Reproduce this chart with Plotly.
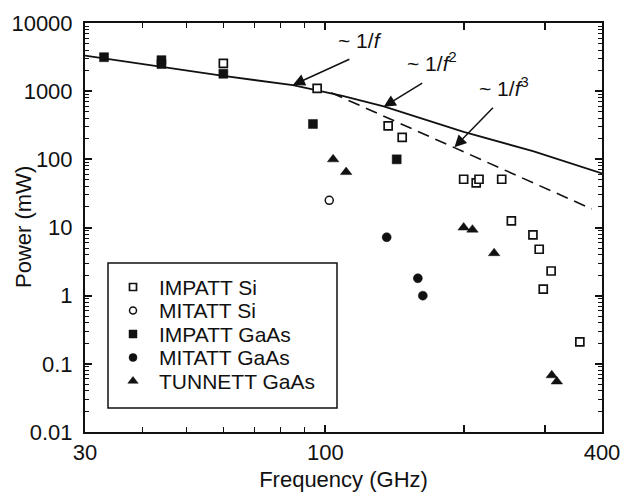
import math
import plotly.graph_objects as go

# Measured output power of transit-time diodes
impatt_si_f = [60, 96, 137, 147, 200, 213, 216, 242, 254, 283, 292, 310, 298, 358]
impatt_si_p = [2550, 1100, 310, 210, 51, 45, 51, 51, 12.5, 7.8, 4.8, 2.3, 1.25, 0.21]

mitatt_si_f = [102]
mitatt_si_p = [25]

impatt_gaas_f = [33, 44, 44, 60, 94, 143]
impatt_gaas_p = [3150, 2850, 2500, 1800, 330, 100]

mitatt_gaas_f = [136, 159, 163]
mitatt_gaas_p = [7.2, 1.8, 1.0]

tunnett_gaas_f = [104, 111, 200, 209, 233, 311, 319]
tunnett_gaas_p = [100, 65, 10, 9.3, 4.2, 0.068, 0.055]

# Trend lines (~1/f, then ~1/f^2; and ~1/f^3)
trend_solid_f = [30, 60, 85, 109, 134, 200, 283, 400]
trend_solid_p = [3320, 1670, 1230, 850, 600, 252, 132, 62]
trend_dash_f = [103, 380]
trend_dash_p = [950, 18.7]

x_tickvals = [30, 100, 200, 300, 400]
x_ticktext = ["30", "100", "", "", "400"]
x_minorvals = [40, 50, 60, 70, 80, 90]
y_tickvals = [0.01, 0.1, 1, 10, 100, 1000, 10000]
y_ticktext = ["0.01", "0.1", "1", "10", "100", "1000", "10000"]

FONT = "Liberation Sans, Arial, sans-serif"
INK = "#111111"
FS = 22

W, H = 628, 492
L, R, T, B = 85, 26, 23, 60
pw, ph = W - L - R, H - T - B


def px_x(px):
    return (px - L) / pw


def px_y(py):
    return (H - B - py) / ph


series = [
    ("IMPATT Si", impatt_si_f, impatt_si_p,
     dict(symbol="square", size=8, color="white", line=dict(color=INK, width=1.7))),
    ("MITATT Si", mitatt_si_f, mitatt_si_p,
     dict(symbol="circle", size=8, color="white", line=dict(color=INK, width=1.5))),
    ("IMPATT GaAs", impatt_gaas_f, impatt_gaas_p,
     dict(symbol="square", size=9, color=INK, line=dict(color=INK, width=0.5))),
    ("MITATT GaAs", mitatt_gaas_f, mitatt_gaas_p,
     dict(symbol="circle", size=9, color=INK, line=dict(color=INK, width=0.5))),
    ("TUNNETT GaAs", tunnett_gaas_f, tunnett_gaas_p,
     dict(symbol="triangle-up", size=10, color=INK, line=dict(color=INK, width=0.5))),
]

fig = go.Figure()

fig.add_trace(go.Scatter(x=trend_solid_f, y=trend_solid_p, mode="lines",
                         line=dict(color=INK, width=1.8), showlegend=False,
                         hoverinfo="skip"))
fig.add_trace(go.Scatter(x=trend_dash_f, y=trend_dash_p, mode="lines",
                         line=dict(color=INK, width=1.6, dash="12px,7px"),
                         showlegend=False, hoverinfo="skip"))

for name, fx, py, mk in series:
    fig.add_trace(go.Scatter(x=fx, y=py, mode="markers", name=name, marker=mk,
                             showlegend=False))

# Arrows pointing at the trend lines
arrows = [
    (85, 1230, 57, -26),
    (134, 590, 39, -24),
    (191, 150, 39, -40),
]
for f, p, ax, ay in arrows:
    fig.add_annotation(x=math.log10(f), y=math.log10(p), xref="x", yref="y",
                       text="", showarrow=True, arrowhead=2, arrowsize=1.6,
                       arrowwidth=1.5, arrowcolor=INK, ax=ax, ay=ay,
                       font=dict(size=1), borderpad=0)

labels = [
    (119, 5630, "~ 1/<i>f</i>"),
    (171, 2680, "~ 1/<i>f</i><sup>2</sup>"),
    (245, 1150, "~ 1/<i>f</i><sup>3</sup>"),
]
for f, p, txt in labels:
    fig.add_annotation(x=math.log10(f), y=math.log10(p), xref="x", yref="y",
                       text=txt, showarrow=False,
                       font=dict(family=FONT, size=21, color=INK))

# Legend: frame, keys and names
fig.add_shape(type="rect", xref="paper", yref="paper",
              x0=px_x(108), x1=px_x(337), y0=px_y(408), y1=px_y(263),
              line=dict(color=INK, width=1.5), fillcolor="white", layer="below")

legend_rows = [287, 310.5, 334, 357.5, 381]
for (name, _, _, mk), row in zip(series, legend_rows):
    key = dict(mk)
    key["size"] = mk["size"] - 1
    fig.add_trace(go.Scatter(x=[px_x(133)], y=[px_y(row)], mode="markers",
                             marker=key, xaxis="x2", yaxis="y2",
                             showlegend=False, hoverinfo="skip"))
    fig.add_annotation(x=px_x(157), y=px_y(row), xref="paper", yref="paper",
                       text=name, showarrow=False, xanchor="left", yanchor="middle",
                       font=dict(family=FONT, size=21, color=INK))

# Y-axis title
fig.add_annotation(x=px_x(23), y=px_y(227), xref="paper", yref="paper",
                   text="Power (mW)", textangle=-90, showarrow=False,
                   xanchor="center", yanchor="middle",
                   font=dict(family=FONT, size=FS, color=INK))

y_minor = [m * 10 ** e for e in range(-2, 4) for m in range(2, 10)]

fig.update_layout(
    width=W, height=H,
    margin=dict(l=L, r=R, t=T, b=B, autoexpand=False),
    paper_bgcolor="white", plot_bgcolor="white",
    font=dict(family=FONT, size=FS, color=INK),
    showlegend=False,
    xaxis=dict(type="log", range=[math.log10(30), math.log10(400)], automargin=False,
               showline=True, linecolor=INK, linewidth=2, mirror="ticks",
               ticks="inside", ticklen=7, tickwidth=1.5, tickcolor=INK,
               tickvals=x_tickvals, ticktext=x_ticktext, showgrid=False, zeroline=False,
               minor=dict(tickvals=x_minorvals, ticks="inside", ticklen=5,
                          tickwidth=1.2, tickcolor=INK, showgrid=False),
               tickfont=dict(family=FONT, size=FS, color=INK),
               title=dict(text="Frequency (GHz)", font=dict(family=FONT, size=FS, color=INK),
                          standoff=8)),
    yaxis=dict(type="log", range=[-2, 4], automargin=False,
               showline=True, linecolor=INK, linewidth=2, mirror="ticks",
               ticks="inside", ticklen=7, tickwidth=1.5, tickcolor=INK,
               tickvals=y_tickvals, ticktext=y_ticktext, showgrid=False, zeroline=False,
               ticklabelstandoff=6,
               minor=dict(tickvals=y_minor, ticks="inside", ticklen=4,
                          tickwidth=1, tickcolor=INK, showgrid=False),
               tickfont=dict(family=FONT, size=FS, color=INK)),
    xaxis2=dict(overlaying="x", range=[0, 1], visible=False, fixedrange=True),
    yaxis2=dict(overlaying="y", range=[0, 1], visible=False, fixedrange=True),
)

fig.write_html("out.html")
